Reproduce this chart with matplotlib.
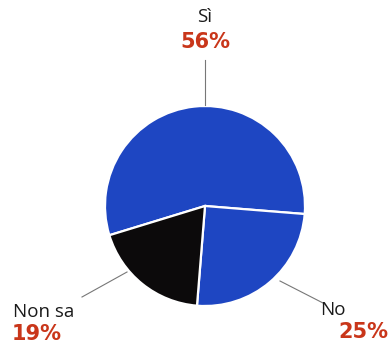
import matplotlib.pyplot as plt

# data
labels = ['Sì', 'No', 'Non sa']
values = [56, 25, 19]
colors = ['#1e46c2', '#1e46c2', '#0c0a0b']

fig = plt.figure(figsize=(3.92, 3.44), dpi=100)
ax = fig.add_axes([0, 0, 1, 1])

# pie in pixel-like coordinates (y up)
ax.pie(values, colors=colors, startangle=197, counterclock=False,
       center=(205, 138), radius=100,
       wedgeprops=dict(edgecolor='white', linewidth=1.6))
ax.set_xlim(0, 392)
ax.set_ylim(0, 344)
ax.set_aspect('equal')
ax.axis('off')

red = '#c9361a'
name_font = dict(family='Open Sans', fontsize=13.5, color='#1a1a1a')
pct_font = dict(family='DejaVu Sans', fontsize=15, fontweight='bold', color=red)

# Sì
ax.plot([205, 205], [284, 239], color='#777777', lw=0.8)
ax.text(205, 327, labels[0], ha='center', va='center', **name_font)
ax.text(205, 302, f'{values[0]}%', ha='center', va='center', **pct_font)

# No
ax.plot([280, 323], [63, 41], color='#777777', lw=0.8)
ax.text(333, 34, labels[1], ha='center', va='center', **name_font)
ax.text(363, 12, f'{values[1]}%', ha='center', va='center', **pct_font)

# Non sa
ax.plot([127, 82], [72, 47], color='#777777', lw=0.8)
ax.text(44, 32, labels[2], ha='center', va='center', **name_font)
ax.text(37, 10, f'{values[2]}%', ha='center', va='center', **pct_font)

fig.savefig('out.png', dpi=100)
